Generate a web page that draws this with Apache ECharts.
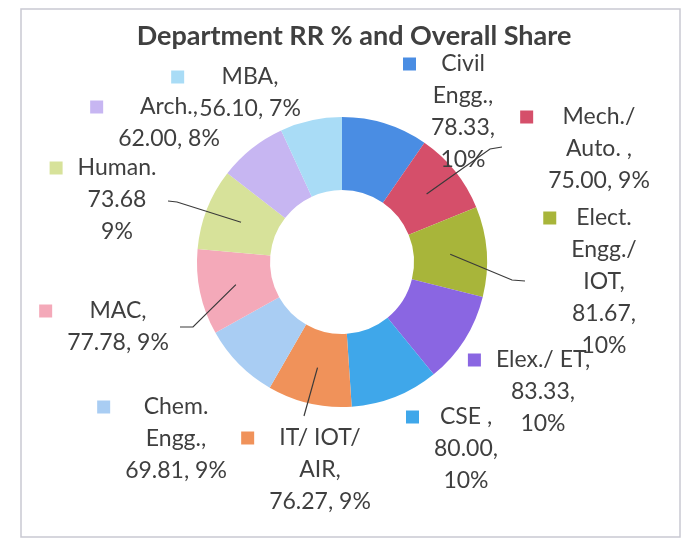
<!DOCTYPE html>
<html><head><meta charset="utf-8">
<script src="https://cdn.jsdelivr.net/npm/echarts@6/dist/echarts.min.js"></script>
<style>html,body{margin:0;padding:0;background:#fff}#c{width:691px;height:539px}</style>
</head><body><div id="c"></div>
<script>
// ---- data ----
const categories = ['Civil\nEngg.', 'Mech./\nAuto. ', 'Elect.\nEngg./\nIOT', 'Elex./ ET', 'CSE ', 'IT/ IOT/\nAIR', 'Chem.\nEngg.', 'MAC', 'Human.', 'Arch.', 'MBA'];
const rrValues = [78.33, 75.00, 81.67, 83.33, 80.00, 76.27, 69.81, 77.78, 73.68, 62.00, 56.10];
const sharePct = [10, 9, 10, 10, 10, 9, 9, 9, 9, 8, 7];
const titleText = 'Department RR % and Overall Share';

// ---- label text separators (after name, after value) ----
const sepName  = [',\n', ',\n', ',\n', ',\n', ',\n', ',\n', ',\n', ',\n', '\n', ',\n', ',\n'];
const sepValue = [',\n', ', ', ',\n', ',\n', ',\n', ', ', ', ', ', ', '\n', ', ', ', '];

// ---- styles / layout ----
const colors = ['#4a8de3', '#d54f6a', '#a8b53a', '#8a66e2', '#3fa7ea', '#f0925a', '#a9cdf3', '#f4a9b9', '#d7e29a', '#c7b6f2', '#a9dcf6'];
// text-centre x and first-line centre y of each label
const labelPos = [[463, 64], [599, 117], [604, 218], [543, 360], [466, 417], [320, 438], [176, 407], [118, 311], [117, 168], [169, 107], [250, 77]];
// leader line bends / ends (null = no leader)
const leaderEnds = [null, [[490, 149], [502, 147]], [[512, 280], [525, 281]], null, null, [[304, 416]], null, [[193, 327], [180, 327]], [[177, 202], [168, 201]], null, null];
const CX = 342, CY = 262, R0 = 72, R1 = 145;
const FONT = 'Lato';
const LH = 32;

const rich = {
  g: { width: 15, height: 13, align: 'left', lineHeight: LH },
  s: { width: 28, height: 13, align: 'left', lineHeight: LH },
  t: { align: 'center', fontFamily: FONT, fontSize: 23, color: '#3f3f3f', lineHeight: LH }
};
colors.forEach((c, i) => { rich['k' + i] = { width: 13, height: 13, backgroundColor: c, align: 'left', lineHeight: LH }; });

const chart = echarts.init(document.getElementById('c'), null, { renderer: 'canvas' });
chart.setOption({
  animation: false,
  backgroundColor: '#fff',
  title: {
    text: titleText, left: 354, top: 23, textAlign: 'center', padding: 0,
    textStyle: { fontFamily: FONT, fontWeight: 'bold', fontSize: 27, color: '#404040' }
  },
  graphic: [{
    id: 'frame', type: 'rect', silent: true, z: -1,
    shape: { x: 21, y: 9, width: 659, height: 528 },
    style: { fill: 'none', stroke: '#c9c9d2', lineWidth: 1.5 }
  }],
  series: [{
    type: 'pie',
    center: [CX, CY],
    radius: [R0, R1],
    startAngle: 90,
    clockwise: true,
    avoidLabelOverlap: false,
    emphasis: { disabled: true },
    itemStyle: { borderWidth: 0 },
    label: {
      show: true, position: 'outside', fontFamily: FONT, fontSize: 23, color: '#3f3f3f', lineHeight: LH,
      formatter: function (p) {
        const i = p.dataIndex;
        const txt = categories[i] + sepName[i] + rrValues[i].toFixed(2) + sepValue[i] + sharePct[i] + '%';
        return txt.split('\n').map((l, j) => (j === 0 ? '{k' + i + '|}{g|}' : '{s|}') + '{t|' + l + '}').join('\n');
      },
      rich: rich
    },
    labelLine: { show: false },
    labelLayout: function (params) {
      const i = params.dataIndex;
      return { x: labelPos[i][0] - 14, y: labelPos[i][1] - LH / 2, align: 'center', verticalAlign: 'top' };
    },
    data: rrValues.map((v, i) => ({ value: v, name: categories[i], itemStyle: { color: colors[i] } }))
  }]
});

// leader lines: start at the middle of each slice's ring, as laid out by the library
const pieData = chart.getModel().getSeriesByIndex(0).getData();
const leaders = [];
leaderEnds.forEach((ends, i) => {
  if (!ends) return;
  const L = pieData.getItemLayout(i);
  const mid = (L.startAngle + L.endAngle) / 2;
  const rm = (L.r + L.r0) / 2;
  const start = [L.cx + rm * Math.cos(mid), L.cy + rm * Math.sin(mid)];
  leaders.push({
    id: 'lead' + i, type: 'polyline', silent: true, z: 100,
    shape: { points: [start].concat(ends) },
    style: { stroke: '#3a3a3a', lineWidth: 1.2, fill: null }
  });
});
chart.setOption({ graphic: leaders });
</script>
</body></html>
